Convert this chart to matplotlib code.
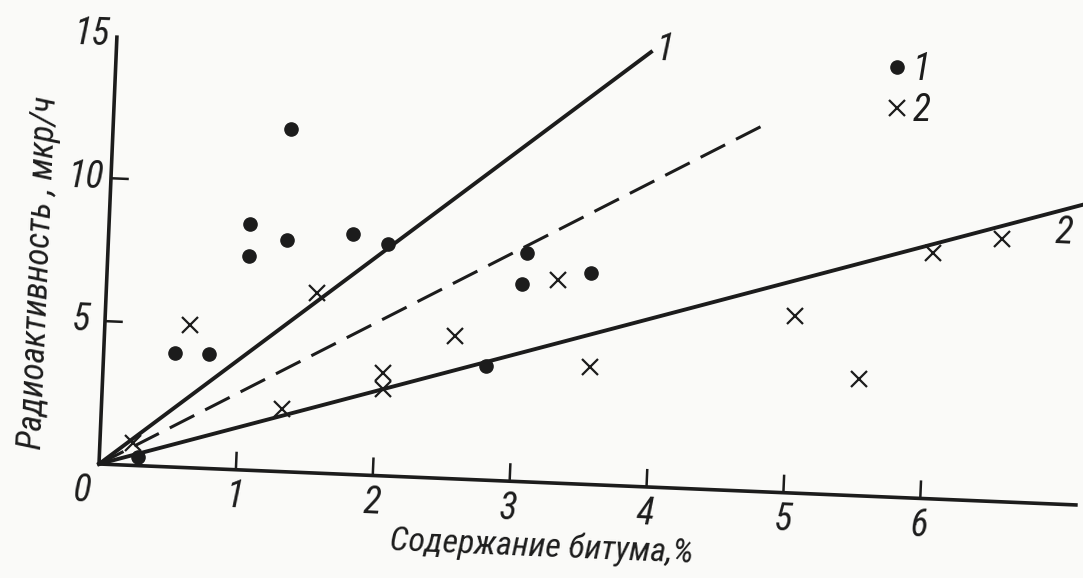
import matplotlib
matplotlib.use("Agg")
import matplotlib.pyplot as plt
from matplotlib import font_manager
from matplotlib.transforms import Affine2D

# sample set 1 (dots): bitumen content, %  /  radioactivity, mkR/h
bit1 = [0.28, 0.52, 0.77, 1.03, 1.03, 1.30, 1.30, 1.78, 2.04, 2.79, 3.03, 3.06, 3.53]
rad1 = [0.3, 4.0, 4.0, 8.6, 7.5, 12.0, 8.1, 8.4, 8.1, 4.0, 6.9, 8.0, 7.4]

# sample set 2 (crosses)
bit2 = [0.24, 0.62, 1.32, 1.54, 2.04, 2.05, 2.56, 3.29, 3.55, 5.03, 5.52, 6.02, 6.52]
rad2 = [0.8, 5.0, 2.2, 6.3, 3.6, 3.05, 5.0, 7.1, 4.1, 6.2, 4.1, 8.6, 9.2]

# regression lines (start / end)
line1_x = [0, 3.9]
line1_y = [0, 15.2]
dash_x = [0, 4.74]
dash_y = [0, 12.8]
line2_x = [0, 7.3]
line2_y = [0, 10.8]

xticks = [1, 2, 3, 4, 5, 6]
yticks = [5, 10]
ytick_labels = ["5", "10", "15"]
ytick_pos = [5, 10, 15]

ink = "#1c1c1c"
paper = "#fafaf8"
tilt = -2.4  # the scan is turned a little clockwise

# narrow italic face if there is one
names = {f.name for f in font_manager.fontManager.ttflist}
fam = [n for n in ["Liberation Sans Narrow", "Roboto Condensed", "Open Sans Condensed",
                   "DejaVu Sans"] if n in names] or ["DejaVu Sans"]
font = dict(family=fam, style="italic", stretch="condensed")

fig = plt.figure(figsize=(10.83, 5.78), dpi=100, facecolor=paper)
ax = fig.add_axes([0, 0, 1, 1])
ax.set_facecolor(paper)
ax.set_autoscale_on(False)
# 137 px per % along x, 28.6 px per mkR/h along y, origin at (99, 114) px
ax.set_xlim(-99 / 137, (1083 - 99) / 137)
ax.set_ylim(-114 / 28.6, (578 - 114) / 28.6)
ax.axis("off")

ox, oy = ax.transData.transform((0, 0))
tr = ax.transData + Affine2D().rotate_deg_around(ox, oy, tilt)

# axes
ax.plot([0, 7.15], [0, 0], color=ink, lw=2.6, transform=tr, solid_capstyle="butt")
ax.plot([0, 0], [0, 15], color=ink, lw=2.6, transform=tr, solid_capstyle="butt")
ax.vlines(xticks, 0, 0.63, color=ink, lw=1.8, transform=tr)
ax.hlines(yticks, 0, 0.13, color=ink, lw=1.8, transform=tr)

for x in xticks:
    ax.text(x, -0.96, str(x), transform=tr, ha="center", va="center",
            rotation=tilt, color=ink, fontsize=27, **font)
ax.text(-0.12, -0.98, "0", transform=tr, ha="center", va="center",
        rotation=tilt, color=ink, fontsize=27, **font)
for y, s in zip(ytick_pos, ytick_labels):
    ax.text(-0.18, y, s, transform=tr, ha="center", va="center",
            rotation=tilt, color=ink, fontsize=27, **font)

ax.text(3.25, -2.25, "Содержание битума,%", transform=tr, ha="center", va="center",
        rotation=tilt, color=ink, fontsize=24.5, **font)
ax.text(-0.5, 6.6, "Радиоактивность , мкр/ч", transform=tr, ha="center", va="center",
        rotation=90 + tilt, color=ink, fontsize=25, **font)

# lines
ax.plot(line1_x, line1_y, color=ink, lw=2.8, transform=tr)
ax.plot(dash_x, dash_y, color=ink, lw=2.2, dashes=(9, 4), transform=tr)
ax.plot(line2_x, line2_y, color=ink, lw=2.8, transform=tr)
ax.text(4.0, 15.3, "1", transform=tr, ha="center", va="center",
        rotation=tilt, color=ink, fontsize=27, **font)
ax.text(6.97, 9.5, "2", transform=tr, ha="center", va="center",
        rotation=tilt, color=ink, fontsize=27, **font)

# points
p1, = ax.plot(bit1, rad1, "o", ms=9.5, color=ink, linestyle="none", transform=tr, zorder=5)
p2, = ax.plot(bit2, rad2, "x", ms=11, mew=1.6, color=ink, linestyle="none", transform=tr, zorder=5)

ax.legend([p1, p2], ["1", "2"], loc="upper left",
          bbox_to_anchor=(888 / 1083, 1 - 51 / 578), bbox_transform=fig.transFigure,
          frameon=False, handlelength=0.5, handletextpad=0.15, labelspacing=0.1,
          borderpad=0, borderaxespad=0, labelcolor=ink,
          prop=dict(family=fam, style="italic", stretch="condensed", size=27))

fig.savefig("out.png", dpi=100, facecolor=paper)
